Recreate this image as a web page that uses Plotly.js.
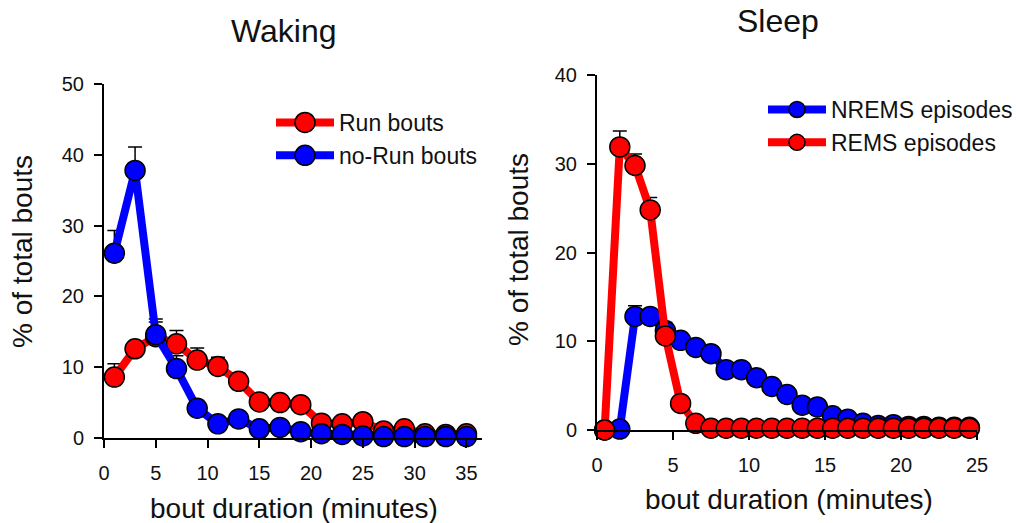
<!DOCTYPE html>
<html>
<head>
<meta charset="utf-8">
<script src="https://cdn.plot.ly/plotly-3.0.1.min.js"></script>
<style>html,body{margin:0;padding:0;background:#fff;}#chart{width:1016px;height:523px;}</style>
</head>
<body>
<div id="chart"></div>
<script>
// ---- Waking panel data ----
const wakeX = [1,3,5,7,9,11,13,15,17,19,21,23,25,27,29,31,33,35];
const runBouts = [8.6,12.6,14.3,13.3,11.0,10.1,8.0,5.1,5.0,4.7,2.1,2.0,2.3,1.0,1.3,0.6,0.5,0.6];
const runErr = [1.9,0.8,2.1,1.9,1.7,1.3,1.1,0.6,0.5,0.5,0.4,0.4,0.4,0.3,0.3,0.2,0.2,0.2];
const noRunBouts = [26.1,37.8,14.6,9.8,4.2,2.0,2.7,1.3,1.5,0.9,0.6,0.5,0.3,0.2,0.2,0.2,0.2,0.2];
const noRunErr = [3.2,3.3,2.2,1.8,1.1,0.5,0.5,0.3,0.3,0.2,0.2,0.2,0.1,0.1,0.1,0.1,0.1,0.1];

// ---- Sleep panel data ----
const sleepX = [0.5,1.5,2.5,3.5,4.5,5.5,6.5,7.5,8.5,9.5,10.5,11.5,12.5,13.5,14.5,15.5,16.5,17.5,18.5,19.5,20.5,21.5,22.5,23.5,24.5];
const nremsEp = [0,0.1,12.8,12.8,11.2,10.1,9.3,8.6,6.8,6.8,5.9,4.9,4.0,2.8,2.6,1.6,1.2,0.75,0.5,0.6,0.4,0.4,0.3,0.3,0.3];
const nremsErr = [0,0,1.2,0.7,0.5,0.4,0.4,0.8,0.3,0.3,0.3,0.3,0.3,0.2,0.2,0.2,0.2,0.1,0.1,0.1,0.1,0.1,0.1,0.1,0.1];
const remsEp = [0,31.9,29.8,24.8,10.6,3.0,0.75,0.2,0.2,0.2,0.2,0.2,0.2,0.2,0.2,0.2,0.2,0.2,0.2,0.2,0.2,0.2,0.2,0.2,0.2];
const remsErr = [0,1.8,1.3,1.4,1.5,0.5,0.2,0.1,0.1,0.1,0.1,0.1,0.1,0.1,0.1,0.1,0.1,0.1,0.1,0.1,0.1,0.1,0.1,0.1,0.1];

const RED = 'rgb(255,0,0)';
const BLUE = 'rgb(0,0,255)';
const FONT = 'Liberation Sans, Arial, Helvetica, sans-serif';

function series(x, y, err, name, color, xa, ya, legend) {
  return {
    type: 'scatter', mode: 'lines+markers', name: name,
    x: x, y: y, xaxis: xa, yaxis: ya, legend: legend,
    line: {color: color, width: 8},
    marker: {color: color, size: 20, line: {color: '#000', width: 1.5}},
    error_y: {type: 'data', symmetric: false, array: err, arrayminus: err.map(() => 0),
              color: '#000', thickness: 1.5, width: 7},
    cliponaxis: false
  };
}

const traces = [
  series(wakeX, runBouts, runErr, 'Run bouts', RED, 'x', 'y', 'legend'),
  series(wakeX, noRunBouts, noRunErr, 'no-Run bouts', BLUE, 'x', 'y', 'legend'),
  series(sleepX, nremsEp, nremsErr, 'NREMS episodes', BLUE, 'x2', 'y2', 'legend2'),
  series(sleepX, remsEp, remsErr, 'REMS episodes', RED, 'x2', 'y2', 'legend2')
];

const W = 1016, H = 523;
const px = v => v / W, py = v => 1 - v / H;

const axisCommon = {
  showline: true, linecolor: '#000', linewidth: 2,
  ticks: 'outside', ticklen: 8, tickwidth: 2, tickcolor: '#000',
  showgrid: false, zeroline: false,
  tickfont: {family: FONT, size: 20, color: '#111'},
  fixedrange: true, automargin: false
};

const layout = {
  width: W, height: H,
  margin: {l: 0, r: 0, t: 0, b: 0, autoexpand: false},
  paper_bgcolor: '#fff', plot_bgcolor: '#fff',
  font: {family: FONT, color: '#111'},
  showlegend: true,
  xaxis: Object.assign({}, axisCommon, {domain: [px(104), px(482)], range: [0, 36.5], tickvals: [0,5,10,15,20,25,30,35], anchor: 'y', ticklabelstandoff: 8}),
  yaxis: Object.assign({}, axisCommon, {domain: [py(438), py(84)], range: [0, 50], tickvals: [0,10,20,30,40,50], anchor: 'x', ticklabelstandoff: 6}),
  xaxis2: Object.assign({}, axisCommon, {domain: [px(597), px(977)], range: [0, 25], tickvals: [0,5,10,15,20,25], anchor: 'y2', ticklabelstandoff: 8}),
  yaxis2: Object.assign({}, axisCommon, {domain: [py(430), py(75)], range: [0, 40], tickvals: [0,10,20,30,40], anchor: 'x2', ticklabelstandoff: 6}),
  legend: {x: px(271), y: py(101), xanchor: 'left', yanchor: 'top', bgcolor: 'rgba(0,0,0,0)',
           font: {family: FONT, size: 23, color: '#111'}, itemwidth: 58, tracegroupgap: 0},
  legend2: {x: px(763), y: py(88), xanchor: 'left', yanchor: 'top', bgcolor: 'rgba(0,0,0,0)',
           font: {family: FONT, size: 23, color: '#111'}, itemwidth: 58, tracegroupgap: 0},
  annotations: [
    {text: 'Waking', x: px(284), y: py(31), xref: 'paper', yref: 'paper', showarrow: false,
     xanchor: 'center', yanchor: 'middle', font: {family: FONT, size: 32, color: '#111'}},
    {text: 'Sleep', x: px(778), y: py(21), xref: 'paper', yref: 'paper', showarrow: false,
     xanchor: 'center', yanchor: 'middle', font: {family: FONT, size: 32, color: '#111'}},
    {text: '% of total bouts', x: px(23), y: py(252), xref: 'paper', yref: 'paper', showarrow: false,
     textangle: -90, xanchor: 'center', yanchor: 'middle', font: {family: FONT, size: 28, color: '#111'}},
    {text: '% of total bouts', x: px(518), y: py(250), xref: 'paper', yref: 'paper', showarrow: false,
     textangle: -90, xanchor: 'center', yanchor: 'middle', font: {family: FONT, size: 28, color: '#111'}},
    {text: 'bout duration (minutes)', x: px(294), y: py(508), xref: 'paper', yref: 'paper', showarrow: false,
     xanchor: 'center', yanchor: 'middle', font: {family: FONT, size: 28, color: '#111'}},
    {text: 'bout duration (minutes)', x: px(789), y: py(499), xref: 'paper', yref: 'paper', showarrow: false,
     xanchor: 'center', yanchor: 'middle', font: {family: FONT, size: 28, color: '#111'}}
  ]
};

Plotly.newPlot('chart', traces, layout, {staticPlot: true, displayModeBar: false}).then(function (gd) {
  // thicken legend samples to match the plotted line/marker style
  gd.querySelectorAll('.legend .legendlines path').forEach(function (p) {
    p.style.strokeWidth = '8px';
  });
  gd.querySelectorAll('.legend .legendpoints path.scatterpts').forEach(function (p) {
    var r = 10;
    p.setAttribute('d', 'M' + r + ',0A' + r + ',' + r + ' 0 1,1 0,-' + r + 'A' + r + ',' + r + ' 0 0,1 ' + r + ',0Z');
  });
});
</script>
</body>
</html>
